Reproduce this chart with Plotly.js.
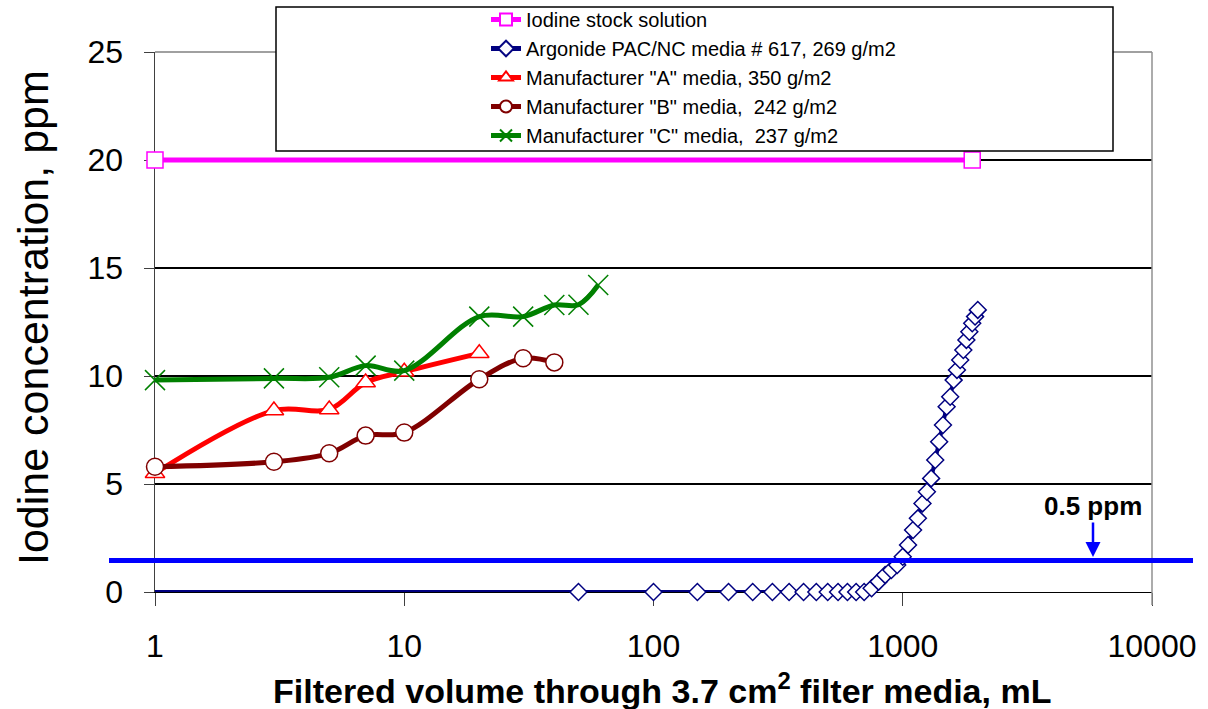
<!DOCTYPE html>
<html>
<head>
<meta charset="utf-8">
<script src="https://cdn.plot.ly/plotly-3.0.1.min.js"></script>
<style>
  html, body { margin: 0; padding: 0; background: #ffffff; }
  #chart { width: 1208px; height: 709px; }
</style>
</head>
<body>
<div id="chart"></div>
<script>
// ---- Data ----
const seriesNames = [
  'Iodine stock solution',
  'Argonide PAC/NC media # 617, 269 g/m2',
  'Manufacturer "A" media, 350 g/m2',
  'Manufacturer "B" media,  242 g/m2',
  'Manufacturer "C" media,  237 g/m2'
];

const stockX = [1, 1900];
const stockY = [20, 20];

const argonideX = [1, 50, 100, 150, 200, 250, 300, 350, 400, 450, 500, 550, 600, 650, 700,
  750, 800, 850, 900, 950, 1000, 1050, 1100, 1150, 1200, 1250, 1300, 1350, 1400, 1450,
  1500, 1550, 1600, 1650, 1700, 1750, 1800, 1850, 1900, 1950, 2000];
const argonideY = [0, 0, 0, 0, 0, 0, 0, 0, 0, 0, 0, 0, 0, 0, 0,
  0.17, 0.48, 0.79, 1.02, 1.25, 1.63, 2.18, 2.87, 3.41, 4.10, 4.64, 5.26, 6.11, 6.96, 7.73,
  8.58, 9.04, 9.81, 10.28, 10.74, 11.20, 11.67, 12.05, 12.44, 12.75, 13.06];

const mfrAX = [1, 3, 5, 7, 10, 20];
const mfrAY = [5.5, 8.4, 8.45, 9.7, 10.2, 11.05];

const mfrBX = [1, 3, 5, 7, 10, 20, 30, 40];
const mfrBY = [5.8, 6.03, 6.42, 7.24, 7.38, 9.85, 10.82, 10.63];

const mfrCX = [1, 3, 5, 7, 10, 20, 30, 40, 50, 60];
const mfrCY = [9.81, 9.89, 9.94, 10.48, 10.25, 12.75, 12.75, 13.29, 13.3, 14.21];

const xTickVals = [1, 10, 100, 1000, 10000];
const xTickText = ['1', '10', '100', '1000', '10000'];
const yTickVals = [0, 5, 10, 15, 20, 25];
const yTickText = ['0', '5', '10', '15', '20', '25'];

const xTitle = 'Filtered volume through 3.7 cm<sup>2</sup> filter media, mL';
const yTitle = 'Iodine concentration, ppm';

const limitValue = 1.46;      // position of the blue limit line
const limitLabel = '0.5 ppm';

// ---- Chart ----
const FONT = 'Liberation Sans, Arial, Helvetica, sans-serif';

const traces = [
  {
    name: seriesNames[0], x: stockX, y: stockY, type: 'scatter', mode: 'lines+markers',
    line: { color: '#FF00FF', width: 5 },
    marker: { symbol: 'square', size: 16, color: '#FFFFFF', line: { color: '#FF00FF', width: 1.5 } },
    cliponaxis: false
  },
  {
    name: seriesNames[1], x: argonideX, y: argonideY, type: 'scatter', mode: 'lines+markers',
    line: { color: '#000080', width: 4 },
    marker: { symbol: 'diamond', size: 13, color: '#FFFFFF', line: { color: '#000080', width: 1.5 },
      opacity: argonideX.map((v, i) => (i === 0 ? 0 : 1)) },
    cliponaxis: false
  },
  {
    name: seriesNames[2], x: mfrAX, y: mfrAY, type: 'scatter', mode: 'lines+markers',
    line: { color: '#FF0000', width: 5, shape: 'spline', smoothing: 1 },
    marker: { symbol: 'triangle-up', size: 17, color: '#FFFFFF', line: { color: '#FF0000', width: 1.5 } },
    cliponaxis: false
  },
  {
    name: seriesNames[3], x: mfrBX, y: mfrBY, type: 'scatter', mode: 'lines+markers',
    line: { color: '#800000', width: 5, shape: 'spline', smoothing: 1 },
    marker: { symbol: 'circle', size: 17, color: '#FFFFFF', line: { color: '#800000', width: 1.5 } },
    cliponaxis: false
  },
  {
    name: seriesNames[4], x: mfrCX, y: mfrCY, type: 'scatter', mode: 'lines+markers',
    line: { color: '#008000', width: 5, shape: 'spline', smoothing: 1 },
    marker: { symbol: 'x-thin', size: 20, color: '#008000', line: { color: '#008000', width: 1.5 } },
    cliponaxis: false
  }
];

const plotL = 155, plotR = 1152, plotT = 52, plotB = 592;
const W = 1208, H = 709;
const pw = plotR - plotL, ph = plotB - plotT;
const px = (p) => (p - plotL) / pw;   // pixel -> paper x
const py = (p) => (plotB - p) / ph;   // pixel -> paper y

const layout = {
  width: W, height: H,
  margin: { l: plotL, r: W - plotR, t: plotT, b: H - plotB, pad: 0, autoexpand: false },
  paper_bgcolor: '#FFFFFF', plot_bgcolor: '#FFFFFF',
  font: { family: FONT, color: '#000000' },
  showlegend: true,
  legend: {
    xref: 'container', yref: 'container',
    x: 486 / W, y: 1.0, xanchor: 'left', yanchor: 'top',
    bgcolor: 'rgba(0,0,0,0)', borderwidth: 0,
    font: { family: FONT, size: 20, color: '#000000' },
    itemsizing: 'constant', traceorder: 'normal'
  },
  xaxis: {
    type: 'log', range: [0, 4], tickmode: 'array', tickvals: xTickVals, ticktext: xTickText,
    ticks: 'outside', ticklen: 13, tickwidth: 1, tickcolor: '#404040',
    showline: true, linecolor: '#000000', linewidth: 1, mirror: false,
    showgrid: false, zeroline: false, layer: 'below traces', automargin: false,
    tickfont: { family: FONT, size: 32, color: '#000000' },
    ticklabelstandoff: 13
  },
  yaxis: {
    range: [0, 25], tickmode: 'array', tickvals: yTickVals, ticktext: yTickText,
    ticks: 'outside', ticklen: 10, tickwidth: 1, tickcolor: '#404040',
    showline: true, linecolor: '#404040', linewidth: 1.5, mirror: false,
    showgrid: true, gridcolor: '#000000', gridwidth: 1.2, zeroline: false, layer: 'below traces',
    automargin: false,
    tickfont: { family: FONT, size: 32, color: '#000000' },
    ticklabelstandoff: 14
  },
  shapes: [
    // plot area top and right border
    { type: 'line', xref: 'paper', yref: 'paper', x0: 0, x1: 1, y0: 1, y1: 1,
      line: { color: '#808080', width: 1.5 }, layer: 'above' },
    { type: 'line', xref: 'paper', yref: 'paper', x0: 1, x1: 1, y0: py(605), y1: 1,
      line: { color: '#909090', width: 1.5 }, layer: 'above' },
    // legend box
    { type: 'rect', xref: 'paper', yref: 'paper', x0: px(276), x1: px(1113), y0: py(151), y1: py(7),
      fillcolor: '#FFFFFF', line: { color: '#000000', width: 1.5 }, layer: 'above' },
    // 0.5 ppm limit line
    { type: 'line', xref: 'paper', yref: 'y', x0: px(109), x1: px(1193), y0: limitValue, y1: limitValue,
      line: { color: '#0000FF', width: 5 }, layer: 'above' }
  ],
  annotations: [
    // axis titles
    { xref: 'paper', yref: 'paper', x: px(662), y: py(688), text: '<b>' + xTitle + '</b>',
      showarrow: false, xanchor: 'center', yanchor: 'middle',
      font: { family: FONT, size: 34, color: '#000000' } },
    { xref: 'paper', yref: 'paper', x: px(33), y: py(318), text: yTitle, textangle: -90,
      showarrow: false, xanchor: 'center', yanchor: 'middle',
      font: { family: FONT, size: 43, color: '#000000' } },
    // limit label with arrow
    { xref: 'paper', yref: 'paper', x: px(1093), y: py(557), text: '<b>' + limitLabel + '</b>',
      showarrow: true, ax: 0, ay: -51, arrowhead: 2, arrowsize: 1.2, arrowwidth: 2.5,
      arrowcolor: '#0000FF', standoff: 0,
      font: { family: FONT, size: 26, color: '#000000' } }
  ]
};

Plotly.newPlot('chart', traces, layout, { displayModeBar: false, staticPlot: true });
</script>
</body>
</html>
